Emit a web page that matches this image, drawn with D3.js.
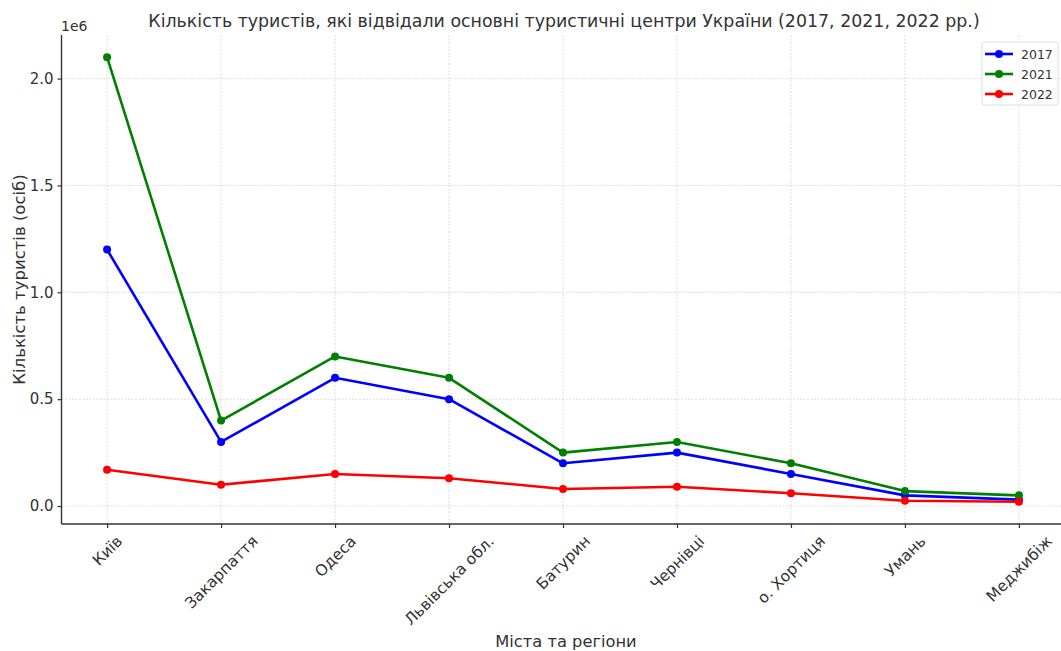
<!DOCTYPE html>
<html><head><meta charset="utf-8">
<script src="https://cdn.jsdelivr.net/npm/d3@7/dist/d3.min.js"></script>
<style>
body{margin:0;background:#fff;}
svg{font-family:"DejaVu Sans",sans-serif;}
</style></head>
<body><svg id="c" width="1061" height="651"></svg>
<script>
const categories = ["Київ","Закарпаття","Одеса","Львівська обл.","Батурин","Чернівці","о. Хортиця","Умань","Меджибіж"];
const years = ["2017","2021","2022"];
const values2017 = [1200000,300000,600000,500000,200000,250000,150000,50000,30000];
const values2021 = [2100000,400000,700000,600000,250000,300000,200000,70000,50000];
const values2022 = [170000,100000,150000,130000,80000,90000,60000,25000,20000];
const yTicks = [0,500000,1000000,1500000,2000000];
const colors = ["#0000ff","#008000","#ff0000"];
const series = [values2017, values2021, values2022];

(function(){
const svg = d3.select("#c");
const pL = 61.5, pR = 1064.5, pT = 35, pB = 524;
const x = d3.scaleLinear().domain([-0.4, 8.4]).range([pL, pR]);
const y = d3.scaleLinear().domain([-84000, 2204000]).range([pB, pT]);
const txt = "#333";

// grid
const g = svg.append("g");
g.selectAll(".vg").data(categories).enter().append("line")
  .attr("x1",(d,i)=>x(i)).attr("x2",(d,i)=>x(i)).attr("y1",pT).attr("y2",pB)
  .attr("stroke","#d4d4d4").attr("stroke-width",0.8).attr("stroke-dasharray","2,1.5");
g.selectAll(".hg").data(yTicks).enter().append("line")
  .attr("x1",pL).attr("x2",pR).attr("y1",d=>y(d)).attr("y2",d=>y(d))
  .attr("stroke","#d4d4d4").attr("stroke-width",0.8).attr("stroke-dasharray","2,1.5");

// axes
const yAxis = d3.axisLeft(y).tickValues(yTicks).tickFormat(d=>(d/1e6).toFixed(1)).tickSize(4).tickPadding(4);
const ya = svg.append("g").attr("transform",`translate(${pL},0)`).call(yAxis);
ya.select(".domain").attr("d",`M0,${pT}V${pB}`).attr("stroke","#333").attr("stroke-width",1.4);
ya.selectAll("text").attr("font-size",15).attr("fill",txt).attr("font-family","DejaVu Sans");
ya.selectAll(".tick line").attr("stroke","#333").attr("stroke-width",1.2);

const xAxis = d3.axisBottom(x).tickValues(d3.range(categories.length)).tickFormat(i=>categories[i]).tickSize(4);
const xa = svg.append("g").attr("transform",`translate(0,${pB})`).call(xAxis);
xa.select(".domain").attr("d",`M${pL},0H${pR}`).attr("stroke","#333").attr("stroke-width",1.4);
xa.selectAll(".tick line").attr("stroke","#333").attr("stroke-width",1.2);
const xf = 15.5;
xa.selectAll("text").attr("font-size",xf).attr("fill",txt).attr("font-family","DejaVu Sans")
  .attr("text-anchor","middle").attr("dy",null).attr("y",0).attr("dominant-baseline","central")
  .attr("transform",function(){
    const L = this.getComputedTextLength();
    const h = (L + xf*0.85) * Math.SQRT1_2;
    return `translate(0,${10 + h/2}) rotate(-45)`;
  });

// lines
const line = d3.line().x((d,i)=>x(i)).y(d=>y(d));
series.forEach((s,k)=>{
  svg.append("path").datum(s).attr("d",line).attr("fill","none")
    .attr("stroke",colors[k]).attr("stroke-width",2.6).attr("stroke-linejoin","round");
  svg.selectAll(".m"+k).data(s).enter().append("circle")
    .attr("cx",(d,i)=>x(i)).attr("cy",d=>y(d)).attr("r",4).attr("fill",colors[k]);
});

// offset label
svg.append("text").attr("x",61).attr("y",31).attr("font-size",14).attr("fill",txt).text("1e6");

// title & labels
svg.append("text").attr("x",564).attr("y",27).attr("text-anchor","middle").attr("font-size",17.4).attr("fill",txt)
  .text("Кількість туристів, які відвідали основні туристичні центри України (2017, 2021, 2022 рр.)");
svg.append("text").attr("transform",`translate(25,${(pT+pB)/2}) rotate(-90)`).attr("text-anchor","middle")
  .attr("font-size",16.5).attr("fill",txt).text("Кількість туристів (осіб)");
svg.append("text").attr("x",566).attr("y",647).attr("text-anchor","middle").attr("font-size",16.3).attr("fill",txt)
  .text("Міста та регіони");

// legend
const lg = svg.append("g");
lg.append("rect").attr("x",982).attr("y",42).attr("width",76).attr("height",63).attr("rx",3)
  .attr("fill","#fff").attr("fill-opacity",0.85).attr("stroke","#ddd");
years.forEach((yr,k)=>{
  const yy = 54 + k*20;
  lg.append("line").attr("x1",985).attr("x2",1013).attr("y1",yy).attr("y2",yy).attr("stroke",colors[k]).attr("stroke-width",2.6);
  lg.append("circle").attr("cx",999).attr("cy",yy).attr("r",4).attr("fill",colors[k]);
  lg.append("text").attr("x",1021).attr("y",yy+4.5).attr("font-size",12.5).attr("fill",txt).text(yr);
});
})();
</script></body></html>
